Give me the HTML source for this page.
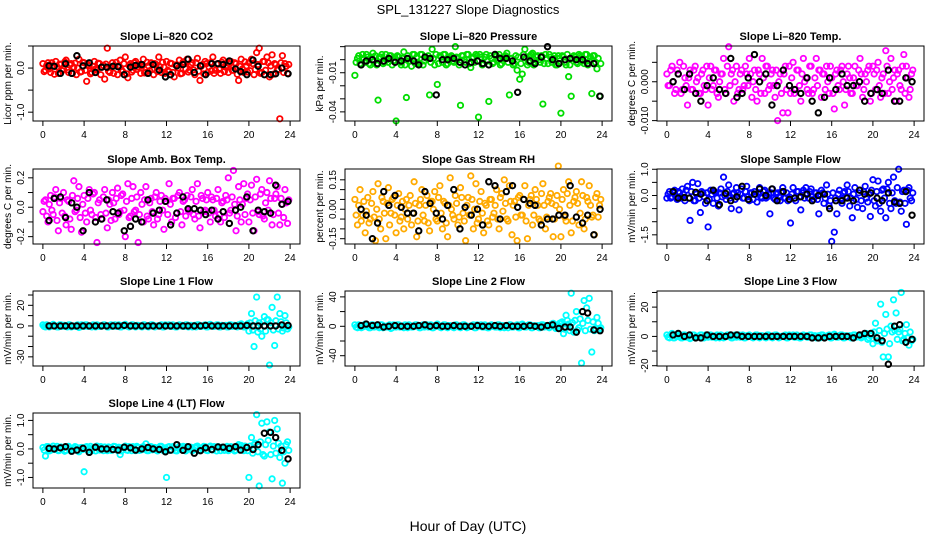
<!DOCTYPE html>
<html><head><meta charset="utf-8">
<style>
html,body{margin:0;padding:0;background:#fff;}
svg{display:block;font-family:"Liberation Sans",sans-serif;}
</style></head>
<body>
<svg id="chart" width="936" height="540" viewBox="0 0 936 540">
<text x="468" y="14" font-size="13" text-anchor="middle">SPL_131227  Slope Diagnostics</text>
<text x="468" y="531" font-size="14" text-anchor="middle">Hour of Day (UTC)</text>
</svg>
<script>
const hoursC=[0,0.25,0.5,0.75,1,1.25,1.5,1.75,2,2.25,2.5,2.75,3,3.25,3.5,3.75,4,4.25,4.5,4.75,5,5.25,5.5,5.75,6,6.25,6.5,6.75,7,7.25,7.5,7.75,8,8.25,8.5,8.75,9,9.25,9.5,9.75,10,10.25,10.5,10.75,11,11.25,11.5,11.75,12,12.25,12.5,12.75,13,13.25,13.5,13.75,14,14.25,14.5,14.75,15,15.25,15.5,15.75,16,16.25,16.5,16.75,17,17.25,17.5,17.75,18,18.25,18.5,18.75,19,19.25,19.5,19.75,20,20.25,20.5,20.75,21,21.25,21.5,21.75,22,22.25,22.5,22.75,23,23.25,23.5,23.75];
const hoursC2=[0.12,0.37,0.62,0.87,1.12,1.37,1.62,1.87,2.12,2.37,2.62,2.87,3.12,3.37,3.62,3.87,4.12,4.37,4.62,4.87,5.12,5.37,5.62,5.87,6.12,6.37,6.62,6.87,7.12,7.37,7.62,7.87,8.12,8.37,8.62,8.87,9.12,9.37,9.62,9.87,10.12,10.37,10.62,10.87,11.12,11.37,11.62,11.87,12.12,12.37,12.62,12.87,13.12,13.37,13.62,13.87,14.12,14.37,14.62,14.87,15.12,15.37,15.62,15.87,16.12,16.37,16.62,16.87,17.12,17.37,17.62,17.87,18.12,18.37,18.62,18.87,19.12,19.37,19.62,19.87,20.12,20.37,20.62,20.87,21.12,21.37,21.62,21.87,22.12,22.37,22.62,22.87,23.12,23.37,23.62,23.87];
const hoursK=[0.6,1.1,1.7,2.2,2.8,3.3,3.9,4.5,5.1,5.7,6.2,6.8,7.3,7.9,8.5,9.0,9.6,10.2,10.7,11.3,11.9,12.4,13.0,13.6,14.1,14.7,15.3,15.8,16.4,17.0,17.5,18.1,18.7,19.2,19.8,20.4,20.9,21.5,22.1,22.6,23.2,23.8];
const xTicks=[0,4,8,12,16,20,24];

const co2C=[0.1,-0.05,0.12,-0.1,0.05,0.15,-0.12,0.08,-0.02,0.18,-0.1,0.1,0.02,-0.15,0.2,-0.08,0.12,-0.3,0.05,-0.1,0.15,-0.05,0.1,0.02,-0.25,0.45,-0.1,0.12,0.05,-0.15,0.18,-0.08,0.25,-0.22,0.1,-0.05,0.15,0.02,-0.12,0.2,-0.1,0.05,0.12,-0.15,0.08,0.25,-0.1,0.02,0.15,-0.08,0.1,-0.2,0.05,0.18,-0.12,0.1,0.2,-0.05,0.12,-0.15,0.22,-0.28,0.08,0.15,-0.1,0.12,0.25,-0.05,0.1,-0.12,0.18,0.02,-0.1,0.15,-0.05,0.1,-0.28,0.2,-0.1,0.05,0.12,0.2,-0.15,0.35,0.45,-0.1,0.15,0.25,-0.2,0.3,0.1,-0.05,-1.15,0.28,0.1,-0.12];
const co2C2=[-0.08,0.06,-0.02,0.12,-0.14,0.03,0.09,-0.06,0.14,-0.04,0.07,-0.12,0.11,0.0,-0.09,0.13,-0.05,0.08,-0.13,0.04,-0.02,0.11,-0.15,0.06,0.09,-0.07,0.02,-0.12,0.13,0.05,-0.04,0.1,-0.13,0.06,-0.09,0.12,-0.03,0.08,0.04,-0.11,0.13,-0.06,-0.02,0.1,-0.08,0.03,0.13,-0.12,-0.05,0.11,-0.1,0.07,0.0,-0.13,0.14,-0.02,-0.09,0.08,-0.04,0.12,-0.07,0.04,-0.13,0.1,0.03,-0.06,-0.12,0.09,-0.03,0.13,-0.08,0.06,0.1,-0.05,0.12,-0.14,0.04,-0.02,0.14,-0.09,-0.06,0.1,-0.03,0.08,-0.12,0.15,-0.05,0.12,0.05,-0.14,0.08,-0.03,0.12,-0.1,0.04,0.08];
const co2K=[0.05,0.04,-0.12,0.1,-0.12,0.28,0.05,0.12,-0.1,0.02,0.02,0.04,0.03,-0.15,0.02,0.06,0.08,-0.12,0.08,-0.05,-0.2,-0.15,0.05,0.08,0.2,-0.1,0.05,-0.15,0.1,0.1,0.08,0.16,-0.02,-0.08,-0.15,0.18,0.04,-0.15,-0.15,-0.13,0.0,-0.13];
const presC=[-0.012,0.001,-0.003,0.004,-0.002,0.002,-0.004,0.005,0.003,-0.031,0.002,-0.003,0.004,-0.002,0.003,-0.001,-0.047,0.002,-0.004,0.006,-0.029,0.001,-0.005,0.004,0.002,-0.003,0.004,-0.001,0.001,-0.027,0.008,-0.004,-0.019,0.003,-0.002,0.004,-0.003,0.002,-0.001,0.01,0.001,-0.035,0.003,-0.002,0.004,-0.006,0.002,0.004,-0.044,0.002,-0.003,0.004,-0.032,0.001,-0.002,0.003,0.004,-0.003,0.002,0.005,-0.027,0.001,-0.003,-0.008,-0.015,-0.011,0.008,-0.004,0.003,0.005,-0.002,0.003,-0.002,-0.034,0.004,-0.003,0.002,0.001,-0.004,0.003,-0.041,0.002,-0.004,-0.013,-0.028,0.003,-0.002,0.004,0.002,-0.003,0.004,-0.001,-0.026,0.003,-0.007,-0.028];
const presC2=[-0.002,0.003,-0.004,0.001,0.004,-0.003,0.002,-0.001,-0.004,0.002,0.004,-0.002,0.0,0.003,-0.004,0.002,0.003,-0.002,0.001,-0.004,0.003,-0.001,0.004,-0.003,-0.002,0.004,-0.004,0.002,0.003,-0.002,0.001,0.004,-0.003,0.002,0.004,-0.004,0.001,0.003,-0.002,0.002,-0.004,0.003,0.0,0.004,-0.003,0.001,-0.002,0.003,0.004,-0.004,0.002,-0.001,0.003,-0.003,0.004,0.0,-0.004,0.002,0.003,-0.002,0.001,-0.004,0.003,0.002,-0.003,0.004,0.001,-0.002,0.004,-0.004,0.002,0.0,0.003,-0.003,0.001,0.004,-0.002,0.003,-0.004,0.001,0.003,-0.002,0.004,-0.004,0.001,0.002,-0.003,0.003,-0.001,0.004,-0.004,0.002,0.003,-0.002,0.001,-0.003];
const presK=[-0.004,-0.001,0.0,-0.003,-0.001,0.001,-0.002,-0.001,0.001,-0.001,-0.004,0.002,0.001,-0.027,0.0,0.0,0.001,-0.002,-0.004,-0.002,-0.001,-0.003,-0.004,0.004,0.001,0.001,-0.001,-0.025,0.002,-0.001,-0.003,0.002,0.01,0.0,-0.003,0.0,0.001,0.0,0.0,-0.003,-0.003,-0.028];
const tempC=[0.002,-0.001,0.004,-0.003,0.003,0.005,-0.002,0.001,-0.006,0.003,-0.002,0.004,0.001,-0.003,0.003,-0.002,-0.006,0.004,-0.001,0.003,-0.004,0.002,0.006,-0.003,0.009,0.002,-0.005,0.004,-0.002,0.003,-0.001,0.002,0.006,-0.004,0.003,-0.005,0.002,0.006,-0.003,0.004,-0.001,0.003,-0.004,-0.01,0.002,-0.008,0.004,-0.008,-0.003,0.005,-0.002,0.003,-0.005,0.006,0.001,-0.003,0.004,-0.002,0.006,0.003,-0.004,0.002,0.004,-0.003,0.001,-0.007,0.003,-0.002,0.004,-0.006,0.002,0.001,-0.003,0.004,-0.001,0.006,-0.004,0.002,0.003,-0.005,0.004,-0.002,0.005,-0.004,0.002,0.008,-0.003,0.006,0.001,-0.005,0.003,-0.002,0.007,0.004,-0.004,0.002];
const tempC2=[-0.001,0.003,0.0,-0.002,0.002,-0.003,0.004,-0.001,0.001,-0.002,0.003,0.0,-0.003,0.002,-0.001,0.004,0.001,-0.002,0.003,-0.003,0.0,0.002,-0.002,0.004,-0.001,0.003,0.0,-0.003,0.002,-0.002,0.004,-0.001,0.002,0.0,-0.002,0.003,-0.003,0.001,0.004,-0.002,0.002,-0.001,0.003,0.0,-0.003,0.002,-0.002,0.004,0.001,-0.003,0.003,-0.001,0.002,0.0,-0.002,0.004,-0.003,0.001,-0.001,0.003,0.002,-0.002,0.0,0.004,-0.003,0.002,-0.001,0.003,0.0,-0.002,0.004,-0.003,0.001,-0.001,0.003,0.002,-0.002,0.0,0.004,-0.003,0.002,0.003,-0.001,0.001,-0.003,0.004,0.0,-0.002,0.003,0.002,-0.001,0.004,-0.003,0.001,-0.002,0.003];
const tempK=[0.0,0.002,-0.002,0.002,-0.003,-0.005,-0.001,0.001,-0.002,-0.003,0.006,-0.004,-0.003,0.001,0.007,0.0,0.002,-0.006,-0.001,0.003,-0.001,-0.002,-0.003,0.001,-0.005,-0.008,-0.004,0.001,-0.002,0.002,-0.001,-0.001,0.0,-0.005,-0.003,-0.002,-0.003,0.003,-0.005,-0.005,0.001,0.0];
const ambC=[-0.03,0.05,-0.1,0.08,-0.05,0.12,-0.16,0.06,0.1,-0.12,0.04,-0.15,0.18,-0.02,0.14,-0.17,0.08,-0.1,0.12,-0.05,0.1,-0.24,0.05,-0.08,0.12,-0.14,0.02,0.1,-0.08,0.13,-0.03,0.09,-0.2,0.16,-0.06,0.14,-0.02,-0.24,0.1,-0.1,0.14,-0.08,0.06,-0.12,0.1,-0.05,0.08,-0.15,0.04,0.16,-0.1,0.06,-0.04,0.1,-0.12,0.05,0.08,-0.03,0.12,-0.08,0.16,-0.14,0.06,-0.02,0.1,-0.1,0.05,-0.06,0.12,-0.1,0.04,0.08,0.2,-0.02,0.25,-0.16,0.14,-0.1,0.16,0.06,-0.1,0.15,-0.16,0.19,-0.05,0.12,-0.08,0.1,0.18,-0.12,0.06,0.14,-0.12,0.02,0.12,-0.11];
const ambC2=[0.04,-0.06,0.02,-0.02,0.07,-0.09,0.03,-0.04,-0.06,0.05,-0.08,0.08,-0.03,0.06,-0.07,0.02,-0.04,0.06,-0.02,0.09,-0.07,0.03,-0.05,0.07,-0.04,0.05,-0.09,0.03,0.06,-0.05,0.08,-0.02,0.04,-0.07,0.06,-0.03,0.07,-0.05,0.02,0.05,-0.06,0.03,-0.03,0.07,-0.08,0.04,-0.02,0.06,-0.05,0.02,0.06,-0.07,0.08,-0.03,0.04,-0.06,-0.02,0.07,-0.05,0.04,-0.06,0.08,-0.03,0.05,-0.04,0.07,-0.02,0.06,-0.05,0.03,-0.07,0.05,-0.04,0.07,0.02,-0.06,0.05,0.02,-0.05,0.09,0.05,-0.04,0.07,-0.03,0.09,-0.06,0.03,-0.02,0.06,-0.05,0.09,-0.04,0.06,-0.07,0.03,0.05];
const ambK=[-0.09,0.06,0.07,-0.07,0.03,0.0,-0.16,0.1,-0.1,-0.08,0.05,-0.03,-0.04,-0.16,-0.13,-0.08,-0.1,0.05,-0.04,-0.02,0.04,-0.12,-0.04,0.07,-0.01,-0.01,-0.02,-0.05,-0.02,-0.08,-0.03,-0.11,-0.02,0.0,0.07,-0.16,-0.02,-0.03,-0.04,0.15,0.02,0.04];
const rhC=[0.05,-0.08,0.1,-0.03,-0.12,0.06,-0.05,0.09,-0.16,0.13,-0.1,0.04,-0.15,0.11,-0.02,0.06,-0.12,0.08,-0.04,-0.1,0.05,0.02,-0.08,0.14,-0.14,0.02,0.1,-0.06,0.07,-0.11,0.04,0.09,-0.06,0.12,-0.1,0.03,-0.14,0.16,-0.03,0.07,-0.08,0.11,-0.02,-0.16,0.06,0.17,-0.1,0.13,-0.05,0.09,-0.12,0.02,-0.08,0.05,-0.02,0.1,-0.1,0.08,0.15,-0.05,0.12,-0.13,0.04,-0.16,0.07,-0.03,0.12,-0.15,0.05,-0.08,0.1,0.02,-0.06,0.13,-0.1,0.04,0.08,-0.14,0.02,0.22,-0.14,0.1,-0.06,0.14,-0.12,0.04,0.09,-0.08,0.14,-0.1,0.06,0.12,-0.04,-0.13,0.08,0.02];
const rhC2=[-0.03,0.02,-0.06,0.04,-0.01,-0.07,0.03,-0.04,0.0,-0.05,0.06,-0.02,0.03,-0.08,0.05,-0.03,0.02,-0.06,0.04,0.0,-0.05,0.07,-0.02,0.03,-0.06,0.05,-0.03,0.02,-0.07,0.04,0.0,-0.05,0.06,-0.02,0.04,-0.07,0.02,0.0,-0.05,0.03,-0.04,0.06,-0.06,0.02,-0.03,0.05,0.0,-0.07,0.04,-0.02,0.03,-0.06,0.05,-0.04,0.02,-0.05,0.06,-0.01,0.03,-0.06,0.04,0.02,-0.04,0.06,-0.03,0.05,-0.06,0.02,0.07,-0.03,0.05,-0.05,0.08,0.02,-0.04,0.06,0.03,-0.05,0.07,0.0,0.05,-0.04,0.08,0.02,-0.06,0.06,0.03,-0.02,0.07,-0.05,0.04,0.02,-0.03,0.06,-0.04,0.05];
const rhK=[0.0,-0.03,-0.15,-0.07,0.09,0.02,0.07,0.01,-0.02,-0.02,-0.11,0.09,0.03,-0.02,-0.05,0.02,0.1,-0.1,0.01,-0.03,0.0,-0.08,0.14,0.12,-0.05,0.09,0.12,0.01,0.05,0.03,0.02,-0.08,-0.05,-0.05,-0.03,-0.03,0.12,-0.04,-0.07,-0.03,-0.13,0.0];
const flowC=[-0.1,0.15,-0.05,0.2,-0.15,0.1,0.25,-0.2,0.35,-0.95,0.5,-0.2,0.45,-0.65,0.1,-0.3,-1.2,0.2,-0.3,0.1,-0.4,0.25,0.7,-0.15,0.4,-0.5,0.1,0.3,-0.55,0.25,-0.1,0.35,-0.2,0.1,0.15,-0.25,0.3,-0.1,0.2,-0.05,-0.7,0.25,-0.15,0.1,-0.2,0.3,-0.1,-0.2,-1.05,0.3,-0.2,0.15,-0.55,0.2,0.3,-0.1,0.25,-0.15,0.1,-0.7,0.2,-0.3,0.4,-0.4,-1.75,-1.4,-0.7,0.2,-0.3,0.15,0.4,-0.4,-0.85,0.3,-0.45,0.2,-0.5,0.35,-0.25,-0.8,0.6,-0.4,0.55,-0.6,0.25,-0.85,0.5,-0.5,0.7,-0.3,1.0,-0.6,0.2,-1.1,0.3,-0.2];
const flowC2=[0.05,-0.1,0.1,-0.05,0.15,-0.1,0.05,0.2,-0.1,0.15,-0.2,0.05,-0.1,0.15,-0.05,0.1,-0.15,0.05,0.15,-0.1,0.1,-0.05,0.0,0.15,-0.1,0.05,-0.15,0.1,0.05,-0.1,0.15,-0.05,0.1,-0.15,0.05,0.1,-0.05,0.15,-0.1,0.05,0.1,-0.1,0.05,-0.05,0.15,-0.1,0.1,-0.05,0.05,-0.1,0.15,-0.05,0.1,-0.1,0.05,0.15,-0.05,0.1,-0.15,0.05,0.1,-0.1,0.05,-0.2,0.1,-0.1,0.05,-0.15,0.1,-0.05,0.15,-0.1,0.05,-0.15,0.1,-0.2,0.15,-0.1,0.05,0.2,-0.2,0.15,-0.3,0.2,-0.1,0.25,-0.3,0.1,-0.2,0.3,-0.25,0.15,-0.3,0.2,-0.1,0.1];
const flowK=[0.15,-0.1,-0.08,-0.1,0.12,0.05,-0.2,0.2,-0.35,0.08,-0.2,-0.05,0.35,-0.15,0.05,0.25,0.0,0.25,-0.2,0.15,-0.15,-0.1,-0.05,0.05,-0.2,0.0,0.05,-0.5,-0.2,-0.2,-0.1,-0.2,0.2,0.05,0.1,-0.1,-0.2,0.1,-0.25,-0.3,0.15,-0.75];
const line1C=[1,-1,0.5,-0.5,1.5,0,-1,1,0.5,-0.5,1,-1,0,0.5,-1.5,1,-0.5,1,0,-1,0.5,1,-0.5,0,1,-1,0.5,-0.5,1,0,-1,0.5,1.5,-0.5,0,1,-1,0.5,-0.5,1,0,-1,1,0.5,-0.5,0,1,-1,0.5,1,-0.5,0,-1,1,0.5,-0.5,1,0,-1,0.5,1,-0.5,0,1,-1,1.5,-0.5,0.5,1,-1,0,0.5,-1,1,0.5,-0.5,1,2,-1,0.5,-5,12,-20,28,3,-10,9,6,-38,18,-19,28,12,-5,10,-3];
const line1C2=[-0.5,1,-1,0.5,0,-1,1,-0.5,0.5,-1,1,0,-0.5,1,-1,0.5,1,-0.5,0,1,-1,0.5,-0.5,1,0,-1,1,0.5,-0.5,1,-1,0,0.5,-1,1,-0.5,0.5,0,-1,1,-0.5,0.5,1,-1,0,0.5,-1,1,0,-0.5,1,-1,0.5,0,-0.5,1,-1,0.5,0,-1,1,-0.5,0.5,-1,1,0,-0.5,1,-1,0.5,0,-1,1,-0.5,0.5,-1,1,0,-1,2,3,-4,5,-6,-3,4,-5,6,3,-4,5,-3,4,-2,3,-1];
const line1K=[0,0,0,0,0,0,0,0,0,0,0,0,0,0.5,0,0,0,0,0,0,0,0,0,0,0,0,0,0.5,0,0,0,0,0,0,0.5,0,0,0,0,0,1,0.5];
const line2C=[2,-2,1,-1,3,0,-2,2,1,-1,2,-2,0,1,-3,2,-1,2,0,-2,1,2,-1,0,2,-2,1,-1,2,0,-2,1,3,-1,0,2,-2,1,-1,2,0,-2,2,1,-1,0,2,-2,1,2,-1,0,-2,2,1,-1,2,0,-2,1,2,-1,0,2,-2,3,-1,1,2,-2,0,1,-2,2,1,-1,2,4,-3,1,5,-10,15,3,45,-8,20,-2,-50,35,25,38,-35,-6,12,-4];
const line2C2=[-1,2,-2,1,0,-2,2,-1,1,-2,2,0,-1,2,-2,1,2,-1,0,2,-2,1,-1,2,0,-2,2,1,-1,2,-2,0,1,-2,2,-1,1,0,-2,2,-1,1,2,-2,0,1,-2,2,0,-1,2,-2,1,0,-1,2,-2,1,0,-2,2,-1,1,-2,2,0,-1,2,-2,1,0,-2,2,-1,1,-2,3,0,-2,4,6,-4,8,-6,5,8,-5,10,4,-6,8,-4,6,-3,4,-2];
const line2K=[1,3,1,2,-1,0,1,0,0,0,1,2,0,1,0,0,1,0,0,0,1,0,0,1,0,1,0,0,0,1,0,-1,1,2,-3,-1,-1,-8,20,18,-5,-6];
const line3C=[1,-1,2,-1,1,0,-1,1,0.5,-1.5,1,-1,0,1,-1,1,-0.5,1,0,-1,0.5,1,-1,0,1,-1,0.5,-0.5,1,0,-1,0.5,1,-0.5,0,1,-1,0.5,-0.5,1,0,-1,1,0.5,-0.5,0,1,-1,0.5,1,-0.5,0,-1,1,0.5,-0.5,1,0,-1,0.5,1,-0.5,0,1,-1,1.5,-0.5,0.5,1,-1,0,0.5,-1,1,0.5,-0.5,1,2,-2,0.5,-5,9,-3,22,-14,15,-14,7,25,16,3,30,-2,8,-6,-3];
const line3C2=[-0.5,1,-1,0.5,0,-1,1,-0.5,0.5,-1,1,0,-0.5,1,-1,0.5,1,-0.5,0,1,-1,0.5,-0.5,1,0,-1,1,0.5,-0.5,1,-1,0,0.5,-1,1,-0.5,0.5,0,-1,1,-0.5,0.5,1,-1,0,0.5,-1,1,0,-0.5,1,-1,0.5,0,-0.5,1,-1,0.5,0,-1,1,-0.5,0.5,-1,1,0,-0.5,1,-1,0.5,0,-1,1,-0.5,0.5,-1,1,2,-1,2,3,-3,4,-4,2,5,-5,3,4,-2,5,-3,2,-1,3,-2];
const line3K=[1,2,0,1,-1,-1,1,0,0,0,1,1,0,0,0,0,0,0,0,0,0,0,0,0,-1,-1,-1,0,0,0,0,-1,1,2,2,-1,-3,-19,7,8,-4,-2];
const line4C=[0.05,-0.25,0.08,-0.05,0.1,0.02,-0.06,0.07,0.04,-0.05,0.09,-0.08,0.02,0.06,-0.1,0.05,-0.8,0.08,0.02,-0.06,0.06,0.1,-0.04,0.02,0.07,-0.06,0.05,-0.04,0.08,0.02,-0.2,0.05,0.1,-0.05,0.02,0.08,-0.06,0.05,-0.04,0.08,0.18,-0.06,0.08,0.05,-0.04,0.02,0.09,-0.07,-1.0,0.08,-0.04,0.02,-0.07,0.09,0.05,-0.04,0.08,0.02,-0.06,0.05,0.1,-0.04,0.02,0.08,-0.06,0.1,-0.04,0.05,0.08,-0.06,0.02,0.05,-0.06,0.08,0.05,-0.04,0.15,0.12,-0.06,0.05,-1.0,0.4,0.15,1.2,-1.3,0.9,-0.25,0.95,0.6,-1.05,1.0,0.7,-0.3,-1.2,-0.5,0.25];
const line4C2=[-0.04,0.08,-0.07,0.03,-0.02,0.09,-0.05,0.04,-0.08,0.06,0.0,-0.04,0.08,-0.06,0.04,-0.02,0.06,-0.05,0.09,0.02,-0.07,0.05,0.08,-0.06,0.0,0.07,-0.05,0.09,-0.03,0.06,-0.07,0.03,-0.04,0.08,-0.06,0.02,0.09,-0.05,0.06,-0.02,-0.06,0.08,-0.03,0.05,-0.07,0.09,-0.02,0.04,0.06,-0.05,0.08,-0.06,0.03,-0.02,0.09,-0.07,0.04,0.06,-0.04,0.08,-0.06,0.03,0.09,-0.05,0.06,-0.02,0.08,-0.07,0.04,0.06,-0.05,0.09,-0.03,0.05,-0.07,0.08,-0.04,0.06,0.1,-0.06,0.1,-0.15,0.2,-0.1,0.25,-0.2,0.15,0.3,-0.2,0.1,-0.15,0.2,0.1,-0.1,0.15,-0.05];
const line4K=[0.02,0.0,0.04,0.08,-0.08,-0.04,0.02,-0.12,0.06,0.0,0.0,-0.02,-0.04,0.06,0.04,-0.04,0.0,0.05,0.0,-0.02,-0.1,-0.04,0.15,-0.05,0.08,-0.15,-0.06,0.04,-0.02,0.07,0.06,0.02,0.08,-0.04,0.05,-0.02,0.15,0.55,0.58,0.4,-0.05,-0.35];

const panels=[
 {name:'co2',title:'Slope Li\u2013820 CO2',ylab:'Licor ppm per min.',col:0,row:0,color:'#ff0000',c:co2C,c2:co2C2,k:co2K,ymin:-1.2,ymax:0.5,ticks:[-1,-0.5,0,0.5],labels:['-1.0','','0.0','']},
 {name:'pressure',title:'Slope Li\u2013820 Pressure',ylab:'kPa per min.',col:1,row:0,color:'#00dd00',c:presC,c2:presC2,k:presK,ymin:-0.047,ymax:0.0105,ticks:[0.01,0,-0.01,-0.02,-0.03,-0.04],labels:['','','-0.01','','','-0.04']},
 {name:'li820-temp',title:'Slope Li\u2013820 Temp.',ylab:'degrees C per min.',col:2,row:0,color:'#ff00ff',c:tempC,c2:tempC2,k:tempK,ymin:-0.0101,ymax:0.0092,ticks:[0.005,0,-0.005,-0.01],labels:['','0.000','','-0.010']},
 {name:'amb-box-temp',title:'Slope Amb. Box Temp.',ylab:'degrees C per min.',col:0,row:1,color:'#ff00ff',c:ambC,c2:ambC2,k:ambK,ymin:-0.25,ymax:0.26,ticks:[0.2,0.1,0,-0.1,-0.2],labels:['0.2','','0.0','','-0.2']},
 {name:'gas-stream-rh',title:'Slope Gas Stream RH',ylab:'percent per min.',col:1,row:1,color:'#ffaa00',c:rhC,c2:rhC2,k:rhK,ymin:-0.177,ymax:0.205,ticks:[0.15,0.1,0.05,0,-0.05,-0.1,-0.15],labels:['0.15','','','0.00','','','-0.15']},
 {name:'sample-flow',title:'Slope Sample Flow',ylab:'mV/min per min.',col:2,row:1,color:'#0000ff',c:flowC,c2:flowC2,k:flowK,ymin:-1.85,ymax:1.01,ticks:[1,0.5,0,-0.5,-1,-1.5],labels:['1.0','','0.0','','','-1.5']},
 {name:'line1-flow',title:'Slope Line 1 Flow',ylab:'mV/min per min.',col:0,row:2,color:'#00ffff',c:line1C,c2:line1C2,k:line1K,ymin:-38.9,ymax:33.9,ticks:[30,20,10,0,-10,-20,-30],labels:['','20','','0','','','-30']},
 {name:'line2-flow',title:'Slope Line 2 Flow',ylab:'mV/min per min.',col:1,row:2,color:'#00ffff',c:line2C,c2:line2C2,k:line2K,ymin:-54,ymax:48,ticks:[40,20,0,-20,-40],labels:['40','','0','','-40']},
 {name:'line3-flow',title:'Slope Line 3 Flow',ylab:'mV/min per min.',col:2,row:2,color:'#00ffff',c:line3C,c2:line3C2,k:line3K,ymin:-20.2,ymax:31,ticks:[30,20,10,0,-10,-20],labels:['','20','','0','','-20']},
 {name:'line4-flow',title:'Slope Line 4 (LT) Flow',ylab:'mV/min per min.',col:0,row:3,color:'#00ffff',c:line4C,c2:line4C2,k:line4K,ymin:-1.37,ymax:1.26,ticks:[1,0.5,0,-0.5,-1],labels:['1.0','','0.0','','-1.0']}
];
const rowTops=[46,169,291,413];
const NS='http://www.w3.org/2000/svg';
const svg=document.getElementById('chart');
function mk(tag,attrs,parent){const e=document.createElementNS(NS,tag);for(const a in attrs)e.setAttribute(a,attrs[a]);parent.appendChild(e);return e;}
panels.forEach(p=>{
 const L=33+312*p.col, T=rowTops[p.row], W=267, H=75;
 const X0=-0.96, X1=24.96;
 const sx=v=>L+(v-X0)/(X1-X0)*W;
 const sy=v=>T+H-(v-p.ymin)/(p.ymax-p.ymin)*H;
 const g=mk('g',{},svg);
 
 
 const t=mk('text',{x:L+W/2,y:T-6,'font-size':11,'font-weight':'bold','text-anchor':'middle'},g);
 t.textContent=p.title;
 
 
 const yl=mk('text',{transform:`translate(${L-22},${T+H/2}) rotate(-90)`,'font-size':10,'text-anchor':'middle'},g);
 yl.textContent=p.ylab;
 
 
 const pts=mk('g',{fill:'none','stroke-width':1.8},g);
 
 
 const n2=Math.min(hoursC2.length,p.c2.length);
 for(let i=0;i<n2;i++){
  const c=mk('circle',{cx:sx(hoursC2[i]),cy:sy(p.c2[i]),r:2.7,stroke:p.color},pts);
  
  
 }
 const n=Math.min(hoursC.length,p.c.length);
 for(let i=0;i<n;i++){
  const c=mk('circle',{cx:sx(hoursC[i]),cy:sy(p.c[i]),r:2.7,stroke:p.color},pts);
  
  
 }
 const m=Math.min(hoursK.length,p.k.length);
 for(let i=0;i<m;i++){
  const c=mk('circle',{cx:sx(hoursK[i]),cy:sy(p.k[i]),r:2.7,stroke:'#000','stroke-width':2},pts);
  
  
 }
 const box=mk('rect',{x:L,y:T,width:W,height:H,fill:'none',stroke:'#000','stroke-width':1},g);
 
 
 xTicks.forEach(v=>{
  mk('line',{x1:sx(v),x2:sx(v),y1:T+H,y2:T+H+5,stroke:'#000'},g);
  const tx=mk('text',{x:sx(v),y:T+H+17,'font-size':10,'text-anchor':'middle'},g);
  tx.textContent=v;
  
  
 });
 p.ticks.forEach((v,i)=>{
  mk('line',{x1:L-5,x2:L,y1:sy(v),y2:sy(v),stroke:'#000'},g);
  if(p.labels[i]){
   const ty=mk('text',{transform:`translate(${L-9},${sy(v)}) rotate(-90)`,'font-size':10,'text-anchor':'middle'},g);
   ty.textContent=p.labels[i];
   
   
  }
 });
});
</script>
</body></html>
